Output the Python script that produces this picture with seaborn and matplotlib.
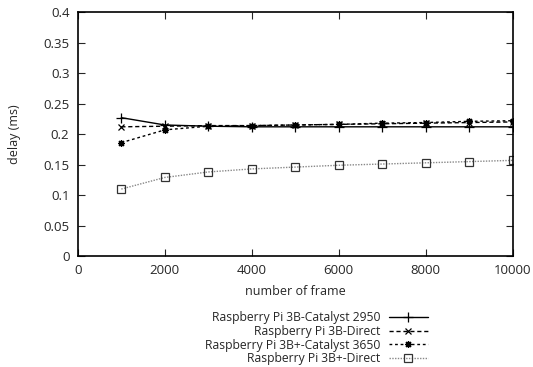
import numpy as np
import pandas as pd
import matplotlib
matplotlib.use("Agg")
import matplotlib.pyplot as plt
from matplotlib.ticker import FuncFormatter
import seaborn as sns

# ----------------------------
# Data
# ----------------------------
frames = [1000, 2000, 3000, 4000, 5000, 6000, 7000, 8000, 9000, 10000]

pi3b_catalyst = [0.227, 0.215, 0.213, 0.212, 0.212, 0.212, 0.212, 0.212, 0.212, 0.212]
pi3b_direct = [0.212, 0.213, 0.214, 0.214, 0.215, 0.216, 0.217, 0.218, 0.219, 0.220]
pi3bp_catalyst = [0.186, 0.207, 0.213, 0.214, 0.215, 0.216, 0.218, 0.219, 0.221, 0.222]
pi3bp_direct = [0.110, 0.129, 0.138, 0.143, 0.146, 0.149, 0.151, 0.153, 0.155, 0.157]

labels = [
    "Raspberry Pi 3B-Catalyst 2950",
    "Raspberry Pi 3B-Direct",
    "Raspberry Pi 3B+-Catalyst 3650",
    "Raspberry Pi 3B+-Direct",
]

sns.set_style("ticks")
plt.rcParams["font.family"] = ["Open Sans", "DejaVu Sans"]
plt.rcParams["font.size"] = 9

fig = plt.figure(figsize=(5.33, 3.67), dpi=100)
ax = fig.add_axes([0.146, 0.302, 0.816, 0.665])

series = [pi3b_catalyst, pi3b_direct, pi3bp_catalyst, pi3bp_direct]
styles = [
    dict(color="black", linestyle="-", marker="+", markersize=7, mfc="none", mec="black"),
    dict(color="black", linestyle=(0, (3, 2)), marker="x", markersize=5, mfc="none", mec="black"),
    dict(color="black", linestyle=(0, (2, 2)), marker=(8, 2, 0), markersize=5, mfc="none", mec="black"),
    dict(color="#888888", linestyle=(0, (1, 1)), marker="s", markersize=5.5, mfc="none", mec="#333333"),
]

for vals, lab, st in zip(series, labels, styles):
    sns.lineplot(x=frames, y=vals, ax=ax, label=lab, linewidth=1.0, markeredgewidth=0.9, **st)

ax.set_xlim(0, 10000)
ax.set_ylim(0, 0.4)
ax.set_xticks(np.arange(0, 10001, 2000))
ax.set_yticks(np.arange(0, 0.401, 0.05))
ax.yaxis.set_major_formatter(FuncFormatter(lambda v, p: "%g" % round(v, 3)))
ax.tick_params(direction="in", top=True, right=True, length=5, labelsize=9.5, pad=6)
for sp in ax.spines.values():
    sp.set_visible(True)
    sp.set_linewidth(1.2)
    sp.set_color("black")

ax.set_xlabel("number of frame", fontsize=9)
ax.xaxis.set_label_coords(0.5, -0.118)
ax.set_ylabel("delay (ms)", fontsize=9, labelpad=16)

ax.legend(loc="upper right", bbox_to_anchor=(436 / 533, 1 - 303 / 367),
          bbox_transform=fig.transFigure, frameon=False, markerfirst=False,
          handlelength=3.2, labelspacing=0.05, handletextpad=0.7, fontsize=8.7,
          borderpad=0.2)

fig.savefig("out.png", dpi=100)
